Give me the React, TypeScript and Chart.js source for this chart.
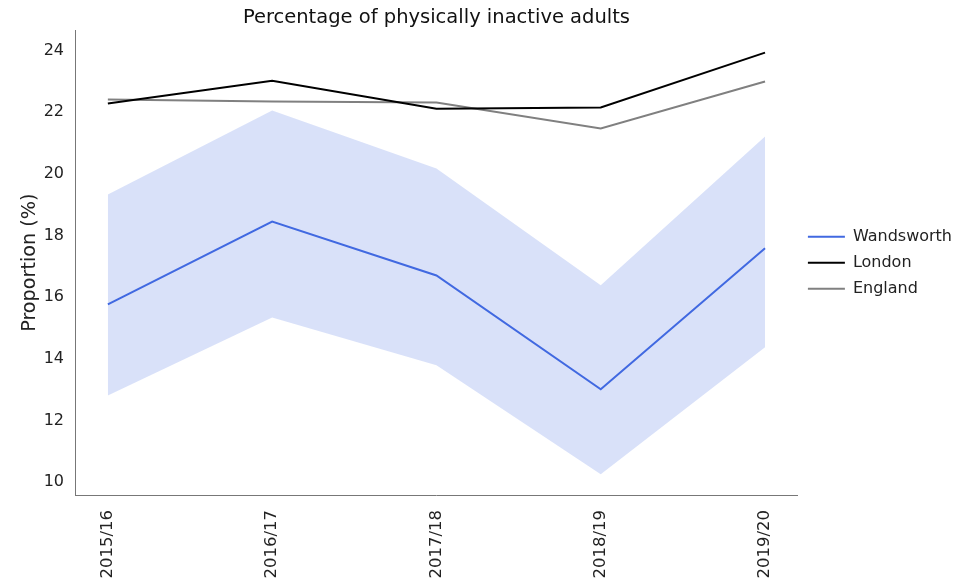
import React, { useEffect, useRef } from "react";
import Chart from "chart.js/auto";

const years = ["2015/16", "2016/17", "2017/18", "2018/19", "2019/20"];
const wandsworth = [15.7, 18.39, 16.64, 12.95, 17.52];
const wandsworthUpper = [19.27, 21.99, 20.11, 16.32, 21.15];
const wandsworthLower = [12.75, 15.28, 13.73, 10.19, 14.31];
const london = [22.22, 22.96, 22.05, 22.09, 23.87];
const england = [22.35, 22.28, 22.25, 21.41, 22.93];
const yTicks = [10, 12, 14, 16, 18, 20, 22, 24];

const FONT = "'DejaVu Sans', sans-serif";

const pts = (arr: number[]) => arr.map((y, i) => ({ x: i, y }));

export default function App() {
  const ref = useRef<HTMLCanvasElement | null>(null);

  useEffect(() => {
    if (!ref.current) return;
    const defaultGen = (Chart as any).defaults.plugins.legend.labels.generateLabels;
    const chart = new Chart(ref.current, {
      type: "line",
      data: {
        datasets: [
          {
            label: "upper",
            data: pts(wandsworthUpper),
            borderWidth: 0,
            pointRadius: 0,
            fill: "+1",
            backgroundColor: "rgba(65,105,225,0.2)",
            borderColor: "rgba(0,0,0,0)",
            order: 10,
          },
          {
            label: "lower",
            data: pts(wandsworthLower),
            borderWidth: 0,
            pointRadius: 0,
            fill: false,
            borderColor: "rgba(0,0,0,0)",
            order: 10,
          },
          {
            label: "Wandsworth",
            data: pts(wandsworth),
            borderColor: "#4169e1",
            backgroundColor: "#4169e1",
            borderWidth: 2,
            pointRadius: 0,
            fill: false,
            order: 1,
          },
          {
            label: "London",
            data: pts(london),
            borderColor: "#000000",
            backgroundColor: "#000000",
            borderWidth: 2,
            pointRadius: 0,
            fill: false,
            order: 2,
          },
          {
            label: "England",
            data: pts(england),
            borderColor: "#808080",
            backgroundColor: "#808080",
            borderWidth: 2,
            pointRadius: 0,
            fill: false,
            order: 3,
          },
        ],
      },
      options: {
        responsive: false,
        animation: false,
        layout: { padding: { left: 0, right: 13, top: 0, bottom: 0 } },
        plugins: {
          tooltip: { enabled: false },
          title: {
            display: true,
            text: "Percentage of physically inactive adults",
            fullSize: false,
            color: "#111",
            font: { family: FONT, size: 19.5, weight: "normal" },
            padding: { top: 6, bottom: 1 },
          },
          legend: {
            position: "right",
            fullSize: false,
            labels: {
              color: "#222",
              font: { family: FONT, size: 16 },
              boxWidth: 37,
              boxHeight: 2,
              padding: 10,
              filter: (item: any) => item.datasetIndex >= 2,
              generateLabels: (c: any) =>
                defaultGen(c).map((l: any) => ({
                  ...l,
                  fillStyle: l.strokeStyle,
                  lineWidth: 0,
                })),
            },
          },
        },
        scales: {
          x: {
            type: "linear",
            min: -0.2,
            max: 4.2,
            grid: { display: false, drawTicks: false, tickLength: 0 },
            border: { display: true, color: "#777", width: 1 },
            afterBuildTicks: (s: any) => {
              s.ticks = years.map((_, i) => ({ value: i }));
            },
            afterFit: (s: any) => {
              s.height = 88;
            },
            ticks: {
              autoSkip: false,
              minRotation: 90,
              maxRotation: 90,
              padding: 15,
              color: "#222",
              font: { family: FONT, size: 16.5 },
              callback: (v: any) => years[Math.round(Number(v))] ?? "",
            },
          },
          y: {
            type: "linear",
            min: 9.52,
            max: 24.59,
            grid: { display: false, drawTicks: false, tickLength: 0 },
            border: { display: true, color: "#777", width: 1 },
            afterBuildTicks: (s: any) => {
              s.ticks = yTicks.map((v) => ({ value: v }));
            },
            afterFit: (s: any) => {
              s.width = 75;
            },
            title: {
              display: true,
              text: "Proportion (%)",
              color: "#222",
              font: { family: FONT, size: 19.2 },
              padding: { top: 18, bottom: 0 },
            },
            ticks: {
              padding: 11,
              labelOffset: 2,
              color: "#222",
              font: { family: FONT, size: 16 },
              callback: (v: any) => String(v),
            },
          },
        },
      } as any,
    });
    return () => chart.destroy();
  }, []);

  return (
    <div style={{ position: "fixed", left: 0, top: 0, width: 975, height: 583, background: "#fff" }}>
      <canvas ref={ref} width={975} height={583} style={{ display: "block" }} />
    </div>
  );
}
